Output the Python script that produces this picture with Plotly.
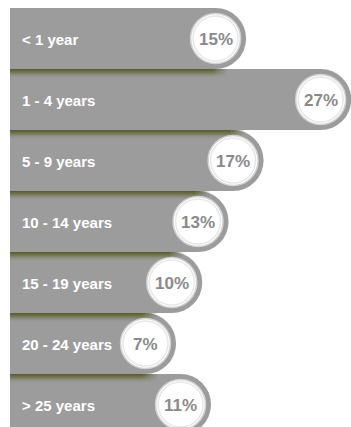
import plotly.graph_objects as go

# Years-of-service distribution
categories = ["< 1 year", "1 - 4 years", "5 - 9 years", "10 - 14 years",
              "15 - 19 years", "20 - 24 years", "> 25 years"]
shares = [15, 27, 17, 13, 10, 7, 11]
share_labels = [f"{v}%" for v in shares]

BAR_GRAY = "rgb(156,156,156)"
X_MIN, X_MAX = -8.47, 30.46
ROW_PX = 61          # pixel height of one row (bar thickness)
rows = list(range(len(categories)))

fig = go.Figure()

# Main bar bodies, starting at the left edge of the plot
fig.add_trace(go.Bar(
    x=[v - X_MIN for v in shares], base=X_MIN, y=rows, orientation="h",
    width=1.0, marker=dict(color=BAR_GRAY, line=dict(width=0)),
    hoverinfo="skip", showlegend=False,
))

# Rounded caps at the right end of each bar
fig.add_trace(go.Scatter(
    x=shares, y=rows, mode="markers",
    marker=dict(size=ROW_PX, color=BAR_GRAY, line=dict(width=0)),
    hoverinfo="skip", showlegend=False,
))

# Soft drop shadow cast by each bar onto the one beneath it
SH_H = 10 / ROW_PX
FADE = 1.5
N_FADE = 5


def shadow_band(x0, x1, y_top, strength):
    grad = dict(
        type="vertical",
        start=y_top, stop=y_top + SH_H,
        colorscale=[
            [0.0, f"rgba(78,82,28,{0.9 * strength:.3f})"],
            [0.35, f"rgba(92,96,42,{0.6 * strength:.3f})"],
            [1.0, "rgba(156,156,156,0)"],
        ],
    )
    fig.add_trace(go.Scatter(
        x=[x0, x1, x1, x0, x0],
        y=[y_top, y_top, y_top + SH_H, y_top + SH_H, y_top],
        mode="lines", line=dict(width=0), fill="toself",
        fillgradient=grad, hoverinfo="skip", showlegend=False,
    ))


for i in rows[1:]:
    y_top = i - 0.5
    end = min(shares[i - 1], shares[i]) - 0.2
    shadow_band(X_MIN, end, y_top, 1.0)
    step = FADE / N_FADE
    for k in range(N_FADE):
        shadow_band(end + k * step, end + (k + 1) * step, y_top,
                    1.0 - (k + 1) / (N_FADE + 1))

# White value badges with a faint inner ring
fig.add_trace(go.Scatter(
    x=shares, y=rows, mode="markers",
    marker=dict(size=50, color="white",
                line=dict(width=1.5, color="rgb(210,210,210)")),
    hoverinfo="skip", showlegend=False,
))
fig.add_trace(go.Scatter(
    x=shares, y=rows, mode="markers",
    marker=dict(size=45, color="rgba(255,255,255,0)",
                line=dict(width=1.5, color="rgba(225,225,225,0.8)")),
    hoverinfo="skip", showlegend=False,
))

# Value labels inside the badges
for i, lab in zip(rows, share_labels):
    fig.add_annotation(
        x=shares[i], y=i, xref="x", yref="y", text=lab, showarrow=False,
        xanchor="center", yanchor="middle", yshift=-1,
        font=dict(family="Liberation Sans, Arial, sans-serif", size=17,
                  color="rgb(138,138,138)", weight="bold"),
    )

# Category names inside the bars
for i, name in zip(rows, categories):
    fig.add_annotation(
        x=X_MIN, y=i, xref="x", yref="y", text=name, showarrow=False,
        xanchor="left", yanchor="middle", xshift=10, yshift=-1,
        font=dict(family="Liberation Sans, Arial, sans-serif", size=15,
                  color="white", weight="bold"),
    )

plot_h = 427 - 8
fig.update_layout(
    width=351, height=427,
    margin=dict(l=10, r=0, t=8, b=0),
    paper_bgcolor="white", plot_bgcolor="white",
    bargap=0,
    xaxis=dict(range=[X_MIN, X_MAX], visible=False, fixedrange=True),
    yaxis=dict(range=[-0.5 + plot_h / ROW_PX, -0.5], visible=False,
               fixedrange=True),
    showlegend=False,
)

fig.write_html("out.html")
